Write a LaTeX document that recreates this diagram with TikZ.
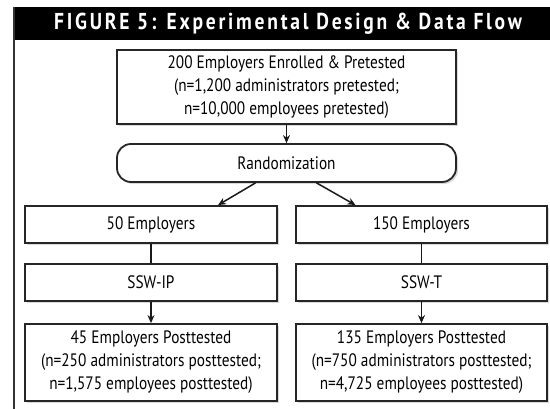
\documentclass[tikz,border=0pt]{standalone}
\usepackage{fontspec}
\setmainfont{PT Sans}[FakeStretch=0.85]
\newfontfamily\headfont{PT Sans}[FakeStretch=0.85,LetterSpace=12]
\usetikzlibrary{arrows.meta,shadows}
\begin{document}
\begin{tikzpicture}[x=1pt,y=-1pt,
  box/.style={draw=black!85, line width=1.8pt, fill=white,
    drop shadow={opacity=0.3,shadow xshift=2pt,shadow yshift=-2pt},
    align=center, font=\fontsize{18}{23}\selectfont, inner sep=0pt},
  arr/.style={line width=1.5pt, draw=black!90, -{Stealth[length=8pt,width=7pt]}},
  ln/.style={line width=1.5pt, draw=black!90}]
\useasboundingbox (0,0) rectangle (550,409);
\fill[black] (14,7) rectangle (550,40);
\draw[line width=2.2pt, black!80] (14,7) -- (14,409);
\node[text=white, font=\headfont\bfseries\fontsize{23}{26}\selectfont] (head) at (288,24) {FIGURE 5: Experimental Design \& Data Flow};

\node[box, minimum width=339pt, minimum height=74pt] (top) at (286.5,87)
  {200 Employers Enrolled \& Pretested\\(n=1,200 administrators pretested;\\n=10,000 employees pretested)};
\node[box, rounded corners=14pt, minimum width=339pt, minimum height=38pt] (rand) at (286.5,163) {Randomization};

\node[box, minimum width=252pt, minimum height=37pt] (l1) at (151,224.5) {50 Employers};
\node[box, minimum width=252pt, minimum height=37pt] (l2) at (151,282.5) {SSW-IP};
\node[box, minimum width=252pt, minimum height=77pt] (l3) at (151,362.5)
  {45 Employers Posttested\\(n=250 administrators posttested;\\n=1,575 employees posttested)};

\node[box, minimum width=251pt, minimum height=37pt] (r1) at (421.5,224.5) {150 Employers};
\node[box, minimum width=251pt, minimum height=37pt] (r2) at (421.5,282.5) {SSW-T};
\node[box, minimum width=251pt, minimum height=77pt] (r3) at (421.5,362.5)
  {135 Employers Posttested\\(n=750 administrators posttested;\\n=4,725 employees posttested)};

\draw[arr] (top.south) -- (rand.north);
\draw[arr] ([xshift=-31pt]rand.south) -- ([xshift=67pt]l1.north);
\draw[arr] ([xshift=30pt]rand.south) -- ([xshift=-66pt]r1.north);
\draw[ln] (l1.south) -- (l2.north);
\draw[arr] (l2.south) -- (l3.north);
\draw[ln] (r1.south) -- (r2.north);
\draw[arr] (r2.south) -- (r3.north);
\end{tikzpicture}
\end{document}
